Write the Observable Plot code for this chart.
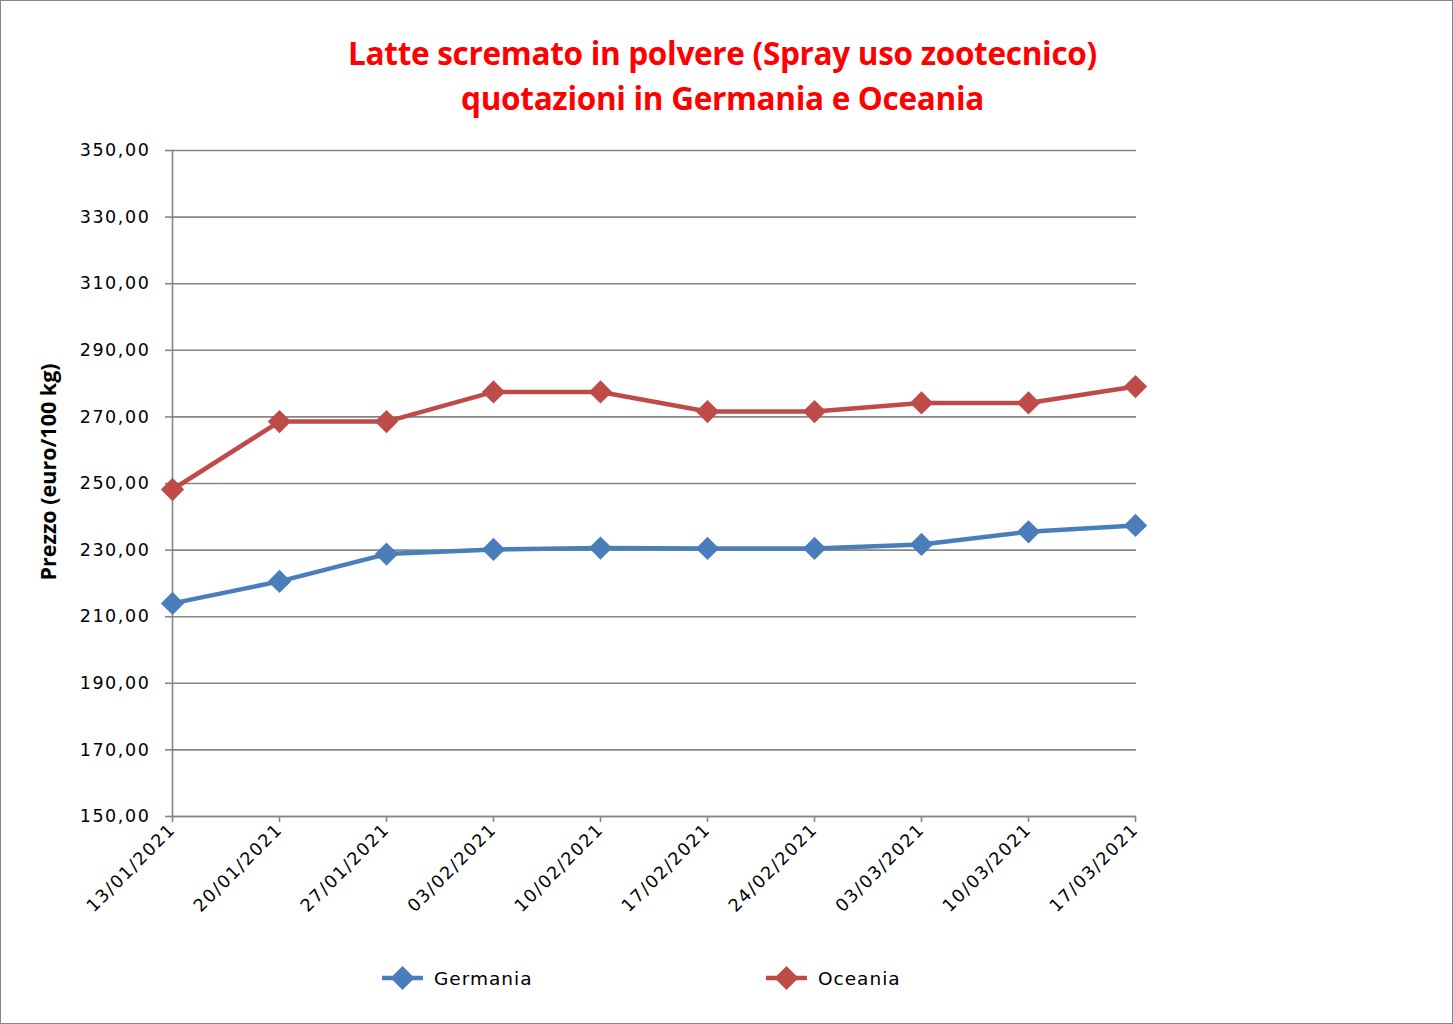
<!DOCTYPE html>
<html>
<head>
<meta charset="utf-8">
<script src="https://cdn.jsdelivr.net/npm/d3@7"></script>
<script src="https://cdn.jsdelivr.net/npm/@observablehq/plot@0.6"></script>
<style>
  html, body { margin: 0; padding: 0; background: #fff; }
  #wrap { position: relative; width: 1453px; height: 1024px; overflow: hidden; }
  #frame { position: absolute; left: 0; top: 0; width: 1451px; height: 1022px; border: 1px solid #868686; }
  #title { position: absolute; left: 0; top: 30px; width: 1445px; text-align: center;
    font-family: "Open Sans", sans-serif; font-weight: 700; font-size: 31.5px; line-height: 45px;
    color: #ff0000; letter-spacing: -0.3px; }
  #ylabel { position: absolute; left: 47px; top: 472px; transform: translate(-50%, -50%) rotate(-90deg);
    font-family: "Open Sans", sans-serif; font-weight: 700; font-size: 21.5px; white-space: nowrap; color: #000; }
  #chart { position: absolute; left: 0; top: 0; }
  #legend { position: absolute; top: 964px; left: 0; width: 1453px; height: 30px;
    font-family: "DejaVu Sans", sans-serif; font-size: 18.5px; letter-spacing: 1px; color: #000; }
  .item { position: absolute; display: flex; align-items: center; height: 28px; }
  .item svg { margin-right: 11px; }
</style>
</head>
<body>
<div id="wrap">
  <div id="frame"></div>
  <div id="title">Latte scremato in polvere (Spray uso zootecnico)<br>quotazioni in Germania e Oceania</div>
  <div id="chart"></div>
  <div id="ylabel">Prezzo (euro/100 kg)</div>
  <div id="legend"></div>
</div>
<script>
const dates = ["13/01/2021", "20/01/2021", "27/01/2021", "03/02/2021", "10/02/2021",
               "17/02/2021", "24/02/2021", "03/03/2021", "10/03/2021", "17/03/2021"];
const germania = [214.0, 220.6, 228.8, 230.2, 230.6, 230.5, 230.5, 231.7, 235.5, 237.4];
const oceania  = [248.2, 268.6, 268.6, 277.5, 277.5, 271.6, 271.6, 274.2, 274.2, 279.1];
const seriesNames = ["Germania", "Oceania"];
const seriesColors = ["#4A7EBB", "#BE4B48"];
const yTicks = [150, 170, 190, 210, 230, 250, 270, 290, 310, 330, 350];

const rows = [];
dates.forEach((d, i) => {
  rows.push({date: d, value: germania[i], series: seriesNames[0]});
  rows.push({date: d, value: oceania[i], series: seriesNames[1]});
});

const fmt = v => v.toFixed(2).replace(".", ",");
const grid = "#868686";

const chart = Plot.plot({
  width: 1453,
  height: 1024,
  marginLeft: 171,
  marginRight: 317,
  marginTop: 150,
  marginBottom: 208,
  style: {fontFamily: "DejaVu Sans, sans-serif", fontSize: "17.5px", color: "#000", background: "transparent", letterSpacing: "1.6px"},
  x: {type: "point", domain: dates, padding: 0},
  y: {domain: [150, 350]},
  color: {domain: seriesNames, range: seriesColors},
  marks: [
    Plot.gridY(yTicks, {stroke: grid, strokeOpacity: 1, strokeWidth: 1.6}),
    Plot.axisY(yTicks, {tickFormat: fmt, tickSize: 6, tickPadding: 15, stroke: grid, strokeWidth: 1.6, label: null, fill: "#000"}),
    Plot.axisX(dates, {tickSize: 6, tickPadding: 4, tickRotate: -45, stroke: grid, strokeWidth: 1.6, label: null, fill: "#000"}),
    Plot.ruleX([dates[0]], {stroke: grid, strokeWidth: 1.6}),
    Plot.ruleY([150], {stroke: grid, strokeWidth: 1.6}),
    Plot.line(rows, {x: "date", y: "value", z: "series", stroke: "series", strokeWidth: 4.5, curve: "linear"}),
    Plot.dot(rows, {x: "date", y: "value", fill: "series", symbol: "diamond2", r: 10.5, stroke: null})
  ]
});
document.getElementById("chart").appendChild(chart);

// Legend
const legend = document.getElementById("legend");
const legendX = [382, 766];
seriesNames.forEach((name, i) => {
  const item = document.createElement("div");
  item.className = "item";
  item.style.left = legendX[i] + "px";
  const c = seriesColors[i];
  item.innerHTML = `<svg width="41" height="28"><line x1="0" y1="14" x2="41" y2="14" stroke="${c}" stroke-width="4.5"/>` +
    `<path d="M20.5,2 L32.5,14 L20.5,26 L8.5,14 Z" fill="${c}"/></svg><span>${name}</span>`;
  legend.appendChild(item);
});
</script>
</body>
</html>
